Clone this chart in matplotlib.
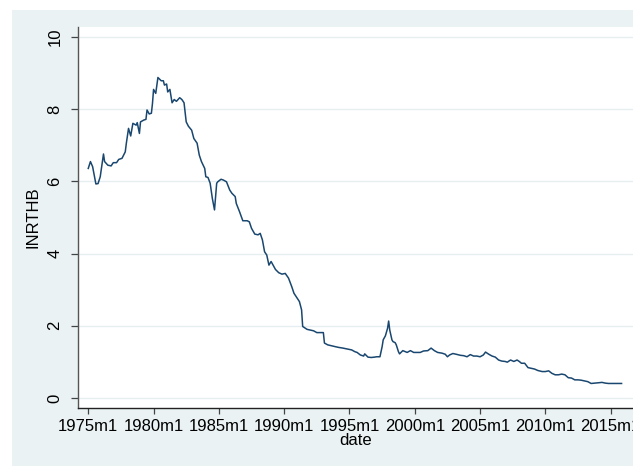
import numpy as np
import matplotlib.pyplot as plt
import matplotlib
from matplotlib.patches import Rectangle
matplotlib.rcParams['font.family'] = ['Liberation Sans', 'DejaVu Sans']

# months since 1975m1
month_idx = [0, 2, 4, 7, 9, 11, 14, 15, 18, 21, 23, 26, 28, 31, 32, 34, 35, 37, 39, 41,
             44, 45, 47, 48, 51, 53, 54, 56, 58, 59, 60, 62, 64, 67, 69, 70, 72, 73, 75, 77,
             79, 81, 84, 86, 88, 90, 92, 95, 97, 100, 102, 104, 107, 108, 110, 112, 114, 116, 118, 119,
             122, 124, 127, 130, 132, 135, 136, 139, 142, 146, 148, 150, 153, 156, 158, 160, 162, 164, 166, 168,
             172, 175, 178, 181, 184, 187, 189, 191, 194, 196, 197, 201, 204, 207, 210, 213, 216, 217, 220, 224,
             227, 230, 234, 239, 242, 245, 247, 250, 253, 254, 257, 260, 263, 265, 268, 270, 271, 273, 275, 276,
             277, 279, 280, 282, 283, 285, 286, 289, 293, 296, 299, 302, 305, 308, 312, 315, 318, 321, 325, 328,
             330, 332, 335, 338, 342, 345, 348, 351, 354, 357, 360, 363, 365, 368, 371, 374, 377, 380, 383, 385,
             388, 391, 394, 396, 398, 401, 404, 407, 410, 413, 417, 420, 423, 426, 429, 432, 435, 438, 441, 444,
             447, 450, 453, 456, 459, 462, 466, 469, 472, 475, 478, 482, 487, 490]
inrthb = [6.36, 6.55, 6.41, 5.93, 5.94, 6.13, 6.76, 6.55, 6.45, 6.43, 6.52, 6.52, 6.61, 6.64, 6.70, 6.82, 7.06, 7.47, 7.26, 7.61,
          7.56, 7.63, 7.33, 7.65, 7.70, 7.72, 7.98, 7.87, 7.89, 8.16, 8.55, 8.44, 8.88, 8.79, 8.79, 8.67, 8.70, 8.48, 8.55, 8.18,
          8.27, 8.22, 8.32, 8.27, 8.18, 7.65, 7.53, 7.42, 7.19, 7.06, 6.73, 6.55, 6.36, 6.13, 6.11, 5.95, 5.53, 5.21, 5.95, 5.99,
          6.06, 6.04, 5.99, 5.76, 5.67, 5.58, 5.39, 5.16, 4.91, 4.91, 4.88, 4.70, 4.54, 4.52, 4.56, 4.38, 4.05, 3.96, 3.68, 3.78,
          3.56, 3.47, 3.43, 3.45, 3.32, 3.08, 2.90, 2.81, 2.67, 2.44, 1.98, 1.90, 1.88, 1.86, 1.81, 1.81, 1.81, 1.52, 1.47, 1.44,
          1.42, 1.40, 1.38, 1.35, 1.33, 1.28, 1.26, 1.19, 1.16, 1.22, 1.13, 1.12, 1.13, 1.14, 1.14, 1.42, 1.61, 1.72, 1.93, 2.13,
          1.88, 1.61, 1.56, 1.53, 1.47, 1.28, 1.22, 1.31, 1.26, 1.31, 1.26, 1.26, 1.26, 1.30, 1.31, 1.38, 1.31, 1.26, 1.24, 1.21,
          1.14, 1.19, 1.23, 1.21, 1.18, 1.17, 1.14, 1.20, 1.16, 1.16, 1.14, 1.19, 1.27, 1.21, 1.16, 1.13, 1.05, 1.02, 1.01, 0.99,
          1.05, 1.01, 1.05, 1.01, 0.96, 0.96, 0.84, 0.82, 0.80, 0.76, 0.73, 0.73, 0.75, 0.68, 0.64, 0.64, 0.66, 0.64, 0.56, 0.55,
          0.50, 0.50, 0.49, 0.47, 0.45, 0.40, 0.41, 0.42, 0.43, 0.41, 0.40, 0.40, 0.40, 0.40]

tick_years = [1975, 1980, 1985, 1990, 1995, 2000, 2005, 2010, 2015]
tick_labels = [str(y) + "m1" for y in tick_years]
y_ticks = [0, 2, 4, 6, 8, 10]

bg = "#EAF2F3"
fig = plt.figure(figsize=(6.33, 4.66), dpi=100, facecolor="white")
# stata graph region (screenshot has a thin white margin top/left)
region = Rectangle((12/633, 0), 1 - 12/633, (466-10)/466, transform=fig.transFigure,
                   facecolor=bg, edgecolor="none")
region.set_zorder(-10)
fig.patches.append(region)

ax = fig.add_axes([77.7/633, (466-408)/466, 1 - 77.7/633, (408-27)/466])
ax.set_facecolor("white")
ax.plot(month_idx, inrthb, color="#1A476F", linewidth=1.1)

ax.set_xlim(-9.7, 500.5)
ax.set_ylim(-0.28, 10.28)
ax.set_xticks([(y - 1975) * 12 for y in tick_years])
ax.set_xticklabels(tick_labels)
ax.set_yticks(y_ticks)
ax.set_yticklabels([str(v) for v in y_ticks], rotation=90, va="center")
for v in y_ticks:
    ax.axhline(v, color="#E6EEF0", linewidth=1.0, zorder=0)

for s in ["top", "right"]:
    ax.spines[s].set_visible(False)
ax.spines["left"].set_color("#555555")
ax.spines["bottom"].set_color("#222222")
ax.spines["left"].set_linewidth(1.0)
ax.spines["bottom"].set_linewidth(1.0)
ax.tick_params(axis="both", direction="out", length=4.5, width=0.9, color="#444444", labelsize=12)
ax.tick_params(axis="x", pad=3.5)
ax.tick_params(axis="y", length=5, pad=6)

ax.set_xlabel("date", fontsize=12, labelpad=-1)
ax.set_ylabel("INRTHB", fontsize=12, labelpad=5)

plt.savefig("out.png", dpi=100, facecolor=fig.get_facecolor())
